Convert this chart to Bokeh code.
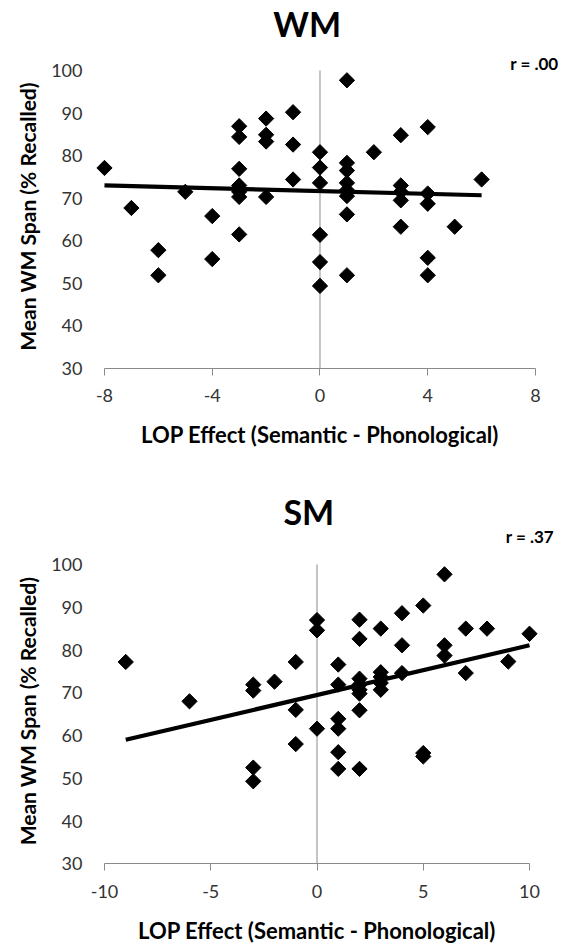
from bokeh.plotting import figure
from bokeh.models import (Range1d, FixedTicker, Label, LinearAxis,
                          CustomJSTickFormatter)
from bokeh.layouts import column
from bokeh.embed import file_html
from bokeh.resources import INLINE
import numpy as np

# ---------------- data ----------------
wm_x = [-8, -7, -6, -6, -5, -4, -4,
        -3, -3, -3, -3, -3, -3, -3,
        -2, -2, -2, -2,
        -1, -1, -1,
        0, 0, 0, 0, 0, 0,
        1, 1, 1, 1, 1, 1, 1, 1,
        2,
        3, 3, 3, 3, 3,
        4, 4, 4, 4, 4,
        5, 6]
wm_y = [77.1, 67.7, 57.8, 51.9, 71.5, 65.8, 55.7,
        86.9, 84.4, 76.9, 73.0, 71.5, 70.3, 61.5,
        88.7, 84.9, 83.3, 70.3,
        90.2, 82.6, 74.4,
        80.8, 77.2, 73.6, 61.4, 55.0, 49.4,
        97.7, 78.3, 76.5, 73.6, 71.9, 70.5, 66.2, 51.9,
        80.8,
        84.8, 73.0, 71.5, 69.5, 63.3,
        86.7, 71.1, 68.7, 56.0, 51.9,
        63.3, 74.4]
wm_trend_x = [-8, 6]
wm_trend_y = [73.0, 70.7]
wm_x_ticks = [-8, -4, 0, 4, 8]

sm_x = [-9, -6,
        -3, -3, -3, -3,
        -2,
        -1, -1, -1,
        0, 0, 0,
        1, 1, 1, 1, 1, 1,
        2, 2, 2, 2, 2, 2, 2, 2,
        3, 3, 3, 3, 3,
        4, 4, 4,
        5, 5, 5,
        6, 6, 6,
        7, 7, 8, 9, 10]
sm_y = [77.2, 68.0,
        71.9, 70.5, 52.5, 49.3,
        72.6,
        77.2, 66.0, 58.0,
        87.0, 84.6, 61.6,
        76.6, 71.9, 63.9, 61.6, 56.1, 52.2,
        87.1, 82.6, 73.3, 71.9, 70.7, 69.8, 65.9, 52.2,
        85.0, 74.8, 73.7, 72.3, 70.7,
        88.6, 81.1, 74.6,
        90.4, 55.9, 55.1,
        97.7, 81.1, 78.7,
        85.0, 74.6, 85.0, 77.3, 83.8]
sm_trend_x = [-9, 10]
sm_trend_y = [59.0, 81.1]
sm_x_ticks = [-10, -5, 0, 5, 10]

y_ticks = [30, 40, 50, 60, 70, 80, 90, 100]
x_cross = 0
x_title = "LOP Effect (Semantic - Phonological)"
y_title = "Mean WM Span (% Recalled)"

FONT = "Lato"
GRAY = "#8a8a8a"
TXT = "#333333"


def panel(xs, ys, tx, ty, xticks, xr, yr, height, y_axis_at,
          title, title_xy, rtext, r_xy, xt_xy, yt_xy):
    p = figure(width=567, height=height,
               x_range=Range1d(*xr), y_range=Range1d(*yr),
               x_axis_location=None, y_axis_location=None,
               output_backend="svg", toolbar_location=None,
               min_border=0)
    p.outline_line_color = None
    p.xgrid.visible = False
    p.ygrid.visible = False
    p.background_fill_color = "white"

    xa = LinearAxis(fixed_location=y_ticks[0],
                    ticker=FixedTicker(ticks=xticks),
                    formatter=CustomJSTickFormatter(code="return tick.toFixed(0)"),
                    bounds=(xticks[0], xticks[-1]))
    xa.axis_line_color = GRAY
    xa.major_tick_line_color = GRAY
    xa.major_tick_in = 0
    xa.major_tick_out = 7
    xa.minor_tick_line_color = None
    xa.major_label_text_font = FONT
    xa.major_label_text_font_size = "18px"
    xa.major_label_text_color = TXT
    xa.major_label_standoff = 14
    p.add_layout(xa, "below")

    ya = LinearAxis(fixed_location=y_axis_at,
                    ticker=FixedTicker(ticks=y_ticks),
                    bounds=(y_ticks[0], y_ticks[-1]))
    ya.axis_line_color = None
    ya.major_tick_line_color = None
    ya.major_tick_in = 0
    ya.major_tick_out = 0
    ya.minor_tick_line_color = None
    ya.major_label_text_font = FONT
    ya.major_label_text_font_size = "18px"
    ya.major_label_text_color = TXT
    ya.major_label_standoff = 13
    p.add_layout(ya, "left")

    # vertical axis crossing at x = 0, spanning the value axis
    p.segment(x0=[x_cross], y0=[y_ticks[0]], x1=[x_cross], y1=[y_ticks[-1]],
              line_color=GRAY, line_width=1)
    p.line(tx, ty, line_color="black", line_width=4.2)
    p.scatter(xs, ys, marker="square", size=10.8, angle=np.pi / 4,
              fill_color="black", line_color="black")

    common = dict(text_font=FONT, text_font_style="bold", text_color="black",
                  text_baseline="middle")
    p.add_layout(Label(x=title_xy[0], y=title_xy[1], text=title,
                       text_font_size="34px", text_align="center", **common))
    p.add_layout(Label(x=r_xy[0], y=r_xy[1], text=rtext,
                       text_font_size="17px", text_align="right", **common))
    p.add_layout(Label(x=xt_xy[0], y=xt_xy[1], text=x_title,
                       text_font_size="22px", text_align="center", **common))
    p.add_layout(Label(x=yt_xy[0], y=yt_xy[1], text=y_title, angle=np.pi / 2,
                       text_font_size="21px", text_align="center", **common))
    return p


top = panel(wm_x, wm_y, wm_trend_x, wm_trend_y, wm_x_ticks,
            (-11.860, 9.188), (6.04, 116.44), 470, -8.334,
            "WM", (-0.476, 110.93), "r = .00", (8.854, 101.53),
            (0.0, 14.5), (-10.869, 65.7))
bottom = panel(sm_x, sm_y, sm_trend_x, sm_trend_y, sm_x_ticks,
               (-14.894, 11.788), (11.36, 121.98), 473, -10.424,
               "SM", (-0.386, 112.39), "r = .37", (11.153, 106.54),
               (0.0, 14.4), (-13.638, 65.7))

layout = column(top, bottom, spacing=0)
open("out.html", "w").write(file_html(layout, INLINE))
